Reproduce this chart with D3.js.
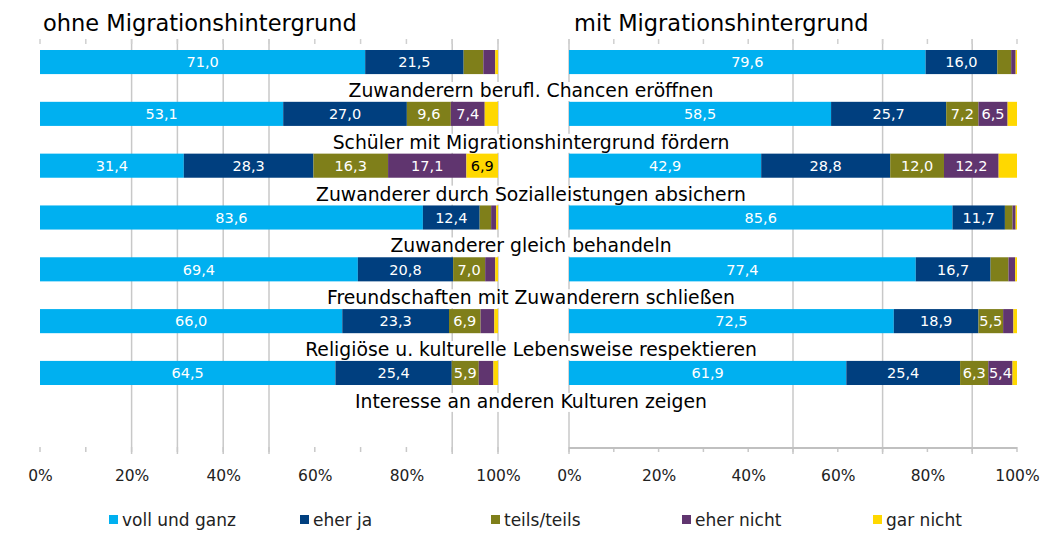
<!DOCTYPE html>
<html>
<head>
<meta charset="utf-8">
<script src="https://cdn.jsdelivr.net/npm/d3@7"></script>
<style>
  body { margin: 0; background: #fff; }
  text { font-family: "DejaVu Sans", Verdana, sans-serif; }
</style>
</head>
<body>
<svg width="1041" height="533"></svg>
<script>
const width = 1041;
const height = 533;

// categories (one row per statement)
const categories = [
  "Zuwanderern berufl. Chancen eröffnen",
  "Schüler mit Migrationshintergrund fördern",
  "Zuwanderer durch Sozialleistungen absichern",
  "Zuwanderer gleich behandeln",
  "Freundschaften mit Zuwanderern schließen",
  "Religiöse u. kulturelle Lebensweise respektieren",
  "Interesse an anderen Kulturen zeigen"
];
const seriesNames = ["voll und ganz", "eher ja", "teils/teils", "eher nicht", "gar nicht"];
const colors = ["#00b0f0", "#003f7f", "#7f7f1a", "#60356f", "#ffd800"];

// ohne Migrationshintergrund
const ohneVoll   = [71.0, 53.1, 31.4, 83.6, 69.4, 66.0, 64.5];
const ohneEherJa = [21.5, 27.0, 28.3, 12.4, 20.8, 23.3, 25.4];
const ohneTeils  = [4.3, 9.6, 16.3, 2.5, 7.0, 6.9, 5.9];
const ohneNicht  = [2.6, 7.4, 17.1, 1.1, 2.2, 3.0, 3.2];
const ohneGar    = [0.6, 2.9, 6.9, 0.4, 0.6, 0.8, 1.0];

// mit Migrationshintergrund
const mitVoll   = [79.6, 58.5, 42.9, 85.6, 77.4, 72.5, 61.9];
const mitEherJa = [16.0, 25.7, 28.8, 11.7, 16.7, 18.9, 25.4];
const mitTeils  = [3.1, 7.2, 12.0, 1.7, 4.0, 5.5, 6.3];
const mitNicht  = [1.0, 6.5, 12.2, 0.7, 1.5, 2.3, 5.4];
const mitGar    = [0.3, 2.1, 4.1, 0.3, 0.4, 0.8, 1.0];

const tickValues = [0, 20, 40, 60, 80, 100];

const svg = d3.select("svg").attr("width", width).attr("height", height);

const fmt = v => d3.format(".1f")(v).replace(".", ",");

const y = d3.scaleBand().domain(categories).range([50, 385]).paddingInner(0.535).paddingOuter(0);

function buildRows(series) {
  return categories.map((c, i) => {
    const row = { cat: c };
    seriesNames.forEach((s, j) => row[s] = series[j][i]);
    return row;
  });
}

const panels = [
  { title: "ohne Migrationshintergrund", titleX: 43, range: [40, 498],
    rows: buildRows([ohneVoll, ohneEherJa, ohneTeils, ohneNicht, ohneGar]),
    grid: [20, 30, 40, 50, 90, 100], baseline: false },
  { title: "mit Migrationshintergrund", titleX: 574, range: [569, 1017],
    rows: buildRows([mitVoll, mitEherJa, mitTeils, mitNicht, mitGar]),
    grid: [0, 50, 70, 90], baseline: true }
];

const stack = d3.stack().keys(seriesNames);

panels.forEach(p => {
  const x = d3.scaleLinear().domain([0, 100]).range(p.range);
  const g = svg.append("g");

  // gridlines
  g.selectAll("line.grid").data(p.grid).join("line")
    .attr("x1", d => x(d)).attr("x2", d => x(d))
    .attr("y1", 39).attr("y2", 454)
    .attr("stroke", "#c8c8c8").attr("stroke-width", 1.5);

  // small ticks every 10%
  const minor = d3.range(0, 101, 10);
  g.selectAll("line.tt").data(minor).join("line")
    .attr("x1", d => x(d)).attr("x2", d => x(d))
    .attr("y1", 39).attr("y2", 44)
    .attr("stroke", "#d0d0d0").attr("stroke-width", 1.5);
  g.selectAll("line.bt").data(minor).join("line")
    .attr("x1", d => x(d)).attr("x2", d => x(d))
    .attr("y1", 447).attr("y2", 452)
    .attr("stroke", "#c8c8c8").attr("stroke-width", 1.5);

  if (p.baseline) {
    g.append("line")
      .attr("x1", x(0)).attr("x2", x(100))
      .attr("y1", 448).attr("y2", 448)
      .attr("stroke", "#c0c0c0").attr("stroke-width", 2);
  }

  // axis labels
  const axis = d3.axisBottom(x).tickValues(tickValues)
    .tickFormat(d => d + "%").tickSize(0).tickPadding(0);
  const ax = g.append("g").attr("transform", "translate(0,470)").call(axis);
  ax.select(".domain").remove();
  ax.selectAll("text").attr("font-size", 15.5).attr("fill", "#222")
    .attr("font-family", "DejaVu Sans Condensed, DejaVu Sans, sans-serif");

  // bars
  const layers = stack(p.rows);
  layers.forEach((layer, j) => {
    const lg = g.append("g");
    lg.selectAll("rect").data(layer).join("rect")
      .attr("x", d => x(d[0]))
      .attr("width", d => x(d[1]) - x(d[0]))
      .attr("y", d => y(d.data.cat))
      .attr("height", y.bandwidth())
      .attr("fill", colors[j]);
    lg.selectAll("text").data(layer.filter(d => d[1] - d[0] >= 5)).join("text")
      .attr("x", d => (x(d[0]) + x(d[1])) / 2)
      .attr("y", d => y(d.data.cat) + y.bandwidth() / 2)
      .attr("dy", "0.36em")
      .attr("text-anchor", "middle")
      .attr("font-size", 14.5)
      .attr("fill", j === 4 ? "#000" : "#fff")
      .text(d => fmt(d[1] - d[0]));
  });

  // title
  svg.append("text")
    .attr("x", p.titleX).attr("y", 31)
    .attr("font-size", 22.5).attr("fill", "#000")
    .text(p.title);
});

// category labels below each bar, centred across both panels
const lab = svg.append("g");
categories.forEach(c => {
  const t = lab.append("text")
    .attr("x", 531).attr("y", y(c) + 47)
    .attr("text-anchor", "middle")
    .attr("font-size", 18.8).attr("fill", "#000")
    .text(c);
  const b = t.node().getBBox();
  lab.insert("rect", "text")
    .attr("x", b.x - 2).attr("y", b.y + 2)
    .attr("width", b.width + 4).attr("height", b.height - 2)
    .attr("fill", "#fff");
});

// legend
const lx = d3.scalePoint().domain(seriesNames).range([109, 873]);
const leg = svg.append("g").attr("transform", "translate(0,520)");
seriesNames.forEach((s, j) => {
  leg.append("rect").attr("x", lx(s)).attr("y", -5).attr("width", 9).attr("height", 9)
    .attr("fill", colors[j]);
  leg.append("text").attr("x", lx(s) + 13).attr("y", 0).attr("dy", "0.35em")
    .attr("font-size", 17).attr("fill", "#222")
    .attr("font-family", "DejaVu Sans Condensed, DejaVu Sans, sans-serif")
    .text(s);
});
</script>
</body>
</html>
